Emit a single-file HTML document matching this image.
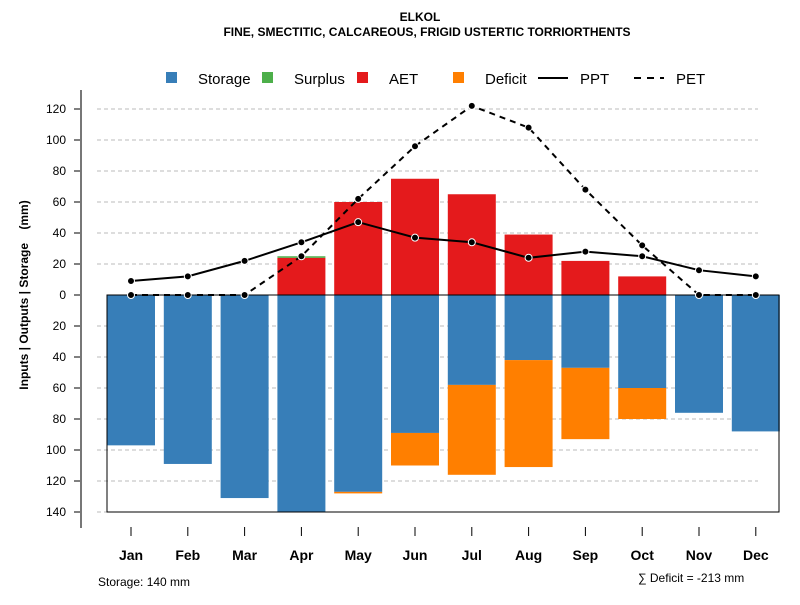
<!DOCTYPE html>
<html><head><meta charset="utf-8"><style>
body{margin:0;background:#fff;font-family:"Liberation Sans",sans-serif}
svg text{font-family:"Liberation Sans",sans-serif}
</style></head><body>
<svg id="chart" width="800" height="600" xmlns="http://www.w3.org/2000/svg">
<text x="420" y="21" text-anchor="middle" font-size="12" font-weight="bold">ELKOL</text>
<text x="427" y="36" text-anchor="middle" font-size="12" font-weight="bold">FINE, SMECTITIC, CALCAREOUS, FRIGID USTERTIC TORRIORTHENTS</text>
<g id="grid"></g><g id="bars"></g><g id="frame"></g><g id="lines"></g><g id="axes"></g>
<g font-size="15">
<rect x="166" y="72" width="11" height="11" fill="#377eb8"/>
<text x="198" y="84">Storage</text>
<rect x="262" y="72" width="11" height="11" fill="#4daf4a"/>
<text x="294" y="84">Surplus</text>
<rect x="357" y="72" width="11" height="11" fill="#e41a1c"/>
<text x="389" y="84">AET</text>
<rect x="453" y="72" width="11" height="11" fill="#ff7f00"/>
<text x="485" y="84">Deficit</text>
<line x1="538" y1="78" x2="568" y2="78" stroke="#000" stroke-width="2"/>
<text x="580" y="84">PPT</text>
<line x1="634" y1="78" x2="664" y2="78" stroke="#000" stroke-width="2" stroke-dasharray="7,6"/>
<text x="676" y="84">PET</text>
</g>
<text transform="translate(28,295) rotate(-90)" text-anchor="middle" font-size="12" font-weight="bold">Inputs | Outputs | Storage &#160;&#160;&#160;(mm)</text>
<text x="98" y="586" font-size="12">Storage: 140 mm</text>
<text x="638" y="582" font-size="12">∑ Deficit = -213 mm</text>
</svg>
<script>
const months=["Jan","Feb","Mar","Apr","May","Jun","Jul","Aug","Sep","Oct","Nov","Dec"];
const storage=[97,109,131,140,127,89,58,42,47,60,76,88];
const deficit=[0,0,0,0,1,21,58,69,46,20,0,0];
const aet=[0,0,0,24,60,75,65,39,22,12,0,0];
const surplus=[0,0,0,1,0,0,0,0,0,0,0,0];
const ppt=[9,12,22,34,47,37,34,24,28,25,16,12];
const pet=[0,0,0,25,62,96,122,108,68,32,0,0];
const yTicks=[120,100,80,60,40,20,0,-20,-40,-60,-80,-100,-120,-140];
const NS="http://www.w3.org/2000/svg";
const y=v=>295-v*1.55;
const x=i=>131+i*56.8;
const bw=48;
function mk(p,t,a){const e=document.createElementNS(NS,t);for(const k in a)e.setAttribute(k,a[k]);document.getElementById(p).appendChild(e);return e;}
yTicks.forEach(v=>{
  if(v!==0){const g=mk('grid','line',{x1:97,x2:758,y1:y(v),y2:y(v),stroke:'#bbb','stroke-dasharray':'4,3'});
  
  }
  const t=mk('axes','line',{x1:74,x2:81,y1:y(v),y2:y(v),stroke:'#000'});
  
  
  const l=mk('axes','text',{x:66,y:y(v)+4,'text-anchor':'end','font-size':12});
  l.textContent=Math.abs(v);
  
  
});
const ax=mk('axes','line',{x1:81,x2:81,y1:90,y2:528,stroke:'#777','stroke-width':2});


months.forEach((m,i)=>{
  const cx=x(i);
  const s=mk('bars','rect',{x:cx-bw/2,y:y(0),width:bw,height:y(-storage[i])-y(0),fill:'#377eb8'});
  
  
  if(deficit[i]>0){const d=mk('bars','rect',{x:cx-bw/2,y:y(-storage[i]),width:bw,height:y(-storage[i]-deficit[i])-y(-storage[i]),fill:'#ff7f00'});
  
  }
  if(aet[i]>0){const a=mk('bars','rect',{x:cx-bw/2,y:y(aet[i]),width:bw,height:y(0)-y(aet[i]),fill:'#e41a1c'});
  
  }
  if(surplus[i]>0){const u=mk('bars','rect',{x:cx-bw/2,y:y(aet[i]+surplus[i]),width:bw,height:y(aet[i])-y(aet[i]+surplus[i]),fill:'#4daf4a'});
  
  }
  const tk=mk('axes','line',{x1:cx,x2:cx,y1:527,y2:536,stroke:'#000'});
  
  
  const lb=mk('axes','text',{x:cx,y:560,'text-anchor':'middle','font-size':14,'font-weight':'bold'});
  lb.textContent=m;
  
  
});
const fr=mk('frame','path',{d:`M107 ${y(0)} V${y(-140)} H779 V${y(0)} Z`,fill:'none',stroke:'#000'});


[[pet,'6,5','pet'],[ppt,null,'ppt']].forEach(([arr,dash,nm])=>{
  const a={d:'M'+arr.map((v,i)=>x(i)+' '+y(v)).join(' L'),fill:'none',stroke:'#000','stroke-width':2};
  if(dash)a['stroke-dasharray']=dash;
  const p=mk('lines','path',a);
  
  
  arr.forEach((v,i)=>{const c=mk('lines','circle',{cx:x(i),cy:y(v),r:3.5,fill:'#000',stroke:'#fff','stroke-width':1});
  
  });
});
</script>
</body></html>
